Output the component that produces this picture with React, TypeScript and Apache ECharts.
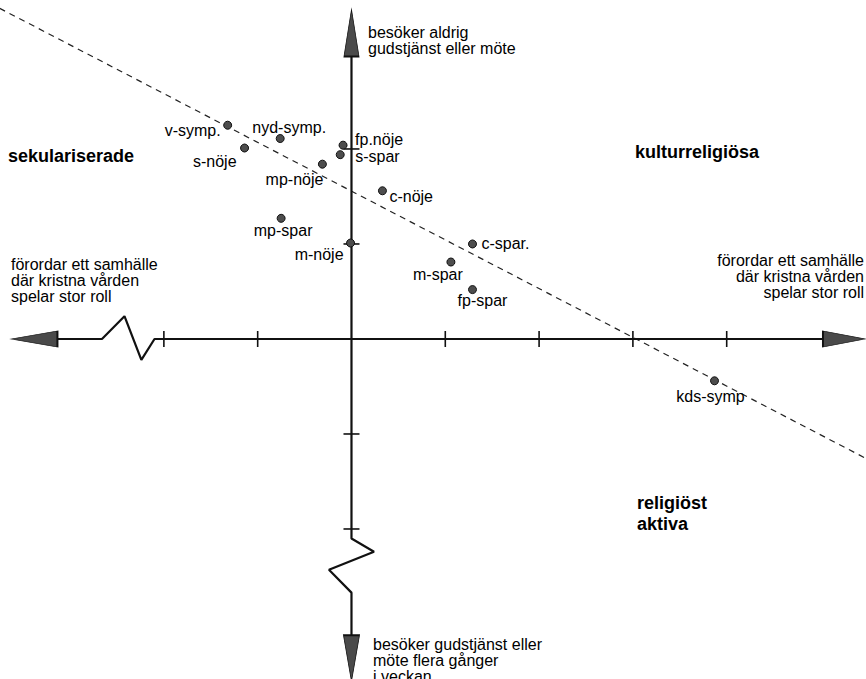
import React, { useEffect, useRef } from "react";
import * as echarts from "echarts";

// ---- data (chart units: one tick = 1) ----
const pointNames = ["v-symp.", "nyd-symp.", "s-nöje", "fp.nöje", "s-spar", "mp-nöje", "c-nöje", "mp-spar", "m-nöje", "c-spar.", "m-spar", "fp-spar", "kds-symp"];
const pointX = [-1.32, -0.76, -1.14, -0.09, -0.12, -0.31, 0.33, -0.75, -0.01, 1.29, 1.06, 1.29, 3.87];
const pointY = [2.25, 2.11, 2.01, 2.04, 1.94, 1.84, 1.56, 1.27, 1.01, 1.0, 0.81, 0.52, -0.44];

const trendX = [-3.75, 5.49];
const trendY = [3.48, -1.26];

const hAxisX = [-3.13, -2.66, -2.42, -2.24, -2.1, 5.03];
const hAxisY = [0, 0, 0.24, -0.22, 0, 0];
const vAxisX = [0, 0, 0.24, -0.24, 0, 0];
const vAxisY = [2.97, -2.1, -2.24, -2.43, -2.67, -3.12];

const xTicks = [-2, -1, 1, 2, 3, 4];
const yTicks = [2, 1, -1, -2];

const arrowX = [-3.38, 5.25, 0, 0];
const arrowY = [0, 0, 3.22, -3.36];

const xRange = [-3.747, 5.485];
const yRange = [-3.579, 3.568];

// ---- styles ----
const arrowRotate = [90, -90, 0, 180];
const arrowSize = [[16, 46], [16, 42], [15, 47], [16, 46]];

const labelPlace: Record<string, { dx: number; dy: number; align: string }> = {
  "v-symp.": { dx: -7, dy: 5, align: "right" },
  "nyd-symp.": { dx: 9, dy: -11, align: "center" },
  "s-nöje": { dx: -8, dy: 13, align: "right" },
  "fp.nöje": { dx: 12, dy: -6, align: "left" },
  "s-spar": { dx: 15, dy: 2, align: "left" },
  "mp-nöje": { dx: 1, dy: 15, align: "right" },
  "c-nöje": { dx: 7, dy: 6, align: "left" },
  "mp-spar": { dx: 2, dy: 12, align: "center" },
  "m-nöje": { dx: -7, dy: 11, align: "right" },
  "c-spar.": { dx: 9, dy: 0, align: "left" },
  "m-spar": { dx: -13, dy: 12, align: "center" },
  "fp-spar": { dx: 10, dy: 11, align: "center" },
  "kds-symp": { dx: -4, dy: 16, align: "center" },
};

const FONT = "'Liberation Sans', Arial, Helvetica, sans-serif";
const INK = "#000";

export default function App() {
  const ref = useRef<HTMLDivElement>(null);
  useEffect(() => {
    if (!ref.current) return;
    const chart = echarts.init(ref.current, undefined, { renderer: "svg" });

    const pts = pointNames.map((n, i) => {
      const p = labelPlace[n];
      return {
        name: n,
        value: [pointX[i], pointY[i]],
        label: {
          show: true,
          formatter: n,
          position: ["50%", "50%"],
          offset: [p.dx, p.dy],
          align: p.align,
          verticalAlign: "middle",
          fontFamily: FONT,
          fontSize: 16,
          color: INK,
          opacity: 1,
          textBorderWidth: 0,
          textBorderColor: "transparent",
        },
      };
    });

    const text = (t: string, x: number, y: number, opts: any = {}) => ({
      type: "text",
      x,
      y,
      silent: true,
      style: {
        text: t,
        font: `${opts.bold ? "bold " : ""}${opts.size || 16}px ${FONT}`,
        fill: INK,
        lineHeight: opts.lh || 16,
        textAlign: opts.align || "left",
        align: opts.align || "left",
        textVerticalAlign: opts.va || "top",
        verticalAlign: opts.va || "top",
      },
    });

    chart.setOption({
      animation: false,
      backgroundColor: "#fff",
      grid: { left: 0, right: 0, top: 0, bottom: 0, containLabel: false },
      xAxis: { type: "value", min: xRange[0], max: xRange[1], show: false },
      yAxis: { type: "value", min: yRange[0], max: yRange[1], show: false },
      series: [
        {
          type: "line",
          data: trendX.map((x, i) => [x, trendY[i]]),
          symbol: "none",
          silent: true,
          lineStyle: { color: "#222", width: 1.2, type: [6, 5] },
          z: 1,
        },
        {
          type: "line",
          data: hAxisX.map((x, i) => [x, hAxisY[i]]),
          symbol: "none",
          silent: true,
          lineStyle: { color: "#111", width: 2.2 },
          z: 2,
        },
        {
          type: "line",
          data: vAxisX.map((x, i) => [x, vAxisY[i]]),
          symbol: "none",
          silent: true,
          lineStyle: { color: "#111", width: 2.2 },
          z: 2,
        },
        {
          type: "scatter",
          data: xTicks.map((x) => [x, 0]),
          symbol: "rect",
          symbolSize: [1.6, 16],
          silent: true,
          itemStyle: { color: "#111", opacity: 1 },
          z: 3,
        },
        {
          type: "scatter",
          data: yTicks.map((y) => [0, y]),
          symbol: "rect",
          symbolSize: [16, 1.6],
          silent: true,
          itemStyle: { color: "#111", opacity: 1 },
          z: 3,
        },
        {
          type: "scatter",
          data: arrowX.map((x, i) => ({
            value: [x, arrowY[i]],
            symbolRotate: arrowRotate[i],
            symbolSize: arrowSize[i],
          })),
          symbol: "triangle",
          silent: true,
          itemStyle: { color: "#4a4a4a", borderColor: "#111", borderWidth: 1.2, opacity: 1 },
          z: 4,
        },
        {
          type: "scatter",
          data: pts,
          symbol: "circle",
          symbolSize: 8,
          silent: true,
          itemStyle: { color: "#4d4d4d", borderColor: "#111", borderWidth: 1, opacity: 1 },
          z: 5,
        },
      ],
      graphic: [
        text("besöker aldrig\ngudstjänst eller möte", 368, 24.3, { lh: 16 }),
        text("förordar ett samhälle\ndär kristna vården\nspelar stor roll", 11, 256, { lh: 16 }),
        text("förordar ett samhälle\ndär kristna vården\nspelar stor roll", 864, 252, { lh: 16, align: "right" }),
        text("sekulariserade", 8, 156, { bold: true, size: 18, va: "middle" }),
        text("kulturreligiösa", 635, 152, { bold: true, size: 18, va: "middle" }),
        text("religiöst\naktiva", 637, 492, { bold: true, size: 18, lh: 21.3 }),
        text("besöker gudstjänst eller\nmöte flera gånger\ni veckan", 373, 636, { lh: 16 }),
      ],
    });
    return () => chart.dispose();
  }, []);

  return (
    <div
      ref={ref}
      style={{ position: "fixed", left: 0, top: 0, width: 866, height: 679, background: "#fff" }}
    />
  );
}
